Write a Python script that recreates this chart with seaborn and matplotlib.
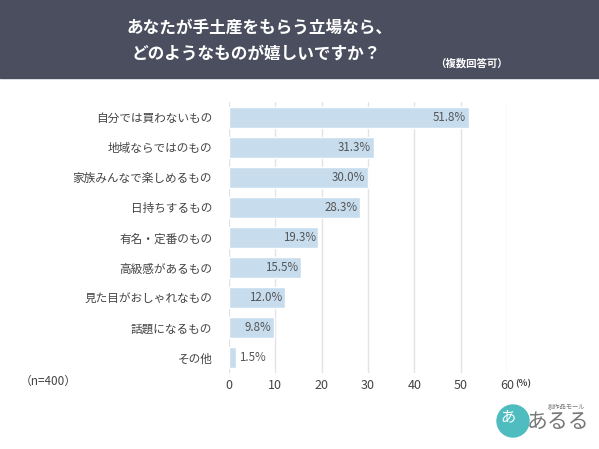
import pandas as pd
import matplotlib.pyplot as plt
import seaborn as sns
from matplotlib.patches import Rectangle, Ellipse

categories = ['自分では買わないもの', '地域ならではのもの', '家族みんなで楽しめるもの', '日持ちするもの',
              '有名・定番のもの', '高級感があるもの', '見た目がおしゃれなもの', '話題になるもの', 'その他']
values = [51.8, 31.3, 30.0, 28.3, 19.3, 15.5, 12.0, 9.8, 1.5]
ticks = [0, 10, 20, 30, 40, 50, 60]

df = pd.DataFrame({'item': categories, 'pct': values})

sns.set_theme(style='white')
plt.rcParams['font.family'] = ['Noto Sans CJK JP', 'DejaVu Sans']

W, H = 599, 449
fig = plt.figure(figsize=(W / 100, H / 100), dpi=100)
fig.patch.set_facecolor('white')

# header band
fig.patches.append(Rectangle((0, 1 - 78 / H), 1, 78 / H, transform=fig.transFigure,
                             color='#4b4e5f', zorder=0))
fig.text(259 / W, 1 - 27 / H, 'あなたが手土産をもらう立場なら、', ha='center', va='center',
         color='white', fontsize=12, fontweight='bold')
fig.text(256 / W, 1 - 53 / H, 'どのようなものが嬉しいですか？', ha='center', va='center',
         color='white', fontsize=12, fontweight='bold')
fig.text(471 / W, 1 - 63 / H, '（複数回答可）', ha='center', va='center',
         color='white', fontsize=7.5, fontweight='bold')

ax = fig.add_axes([229 / W, 1 - 373 / H, (507 - 229) / W, (373 - 102) / H])
sns.barplot(data=df, x='pct', y='item', orient='h', color='#c7ddee', width=0.7,
            saturation=1, ax=ax, zorder=2)
ax.set_xlim(0, 60)
ax.set_xticks(ticks)
ax.set_xticklabels([str(t) for t in ticks], fontsize=9, color='#444444')
ax.tick_params(axis='x', length=0, pad=4)
ax.tick_params(axis='y', length=0, pad=12, labelsize=8.4, labelcolor='#444444')
ax.set_xlabel('')
ax.set_ylabel('')
for s in ax.spines.values():
    s.set_visible(False)
ax.grid(axis='x', color='#e3e3e6', linewidth=1, zorder=0)
ax.set_axisbelow(True)

for i, v in enumerate(values):
    if v > 5:
        ax.text(v - 0.6, i, f'{v:.1f}%', ha='right', va='center', fontsize=8.3, color='#555555', zorder=3)
    else:
        ax.text(v + 0.6, i, f'{v:.1f}%', ha='left', va='center', fontsize=8.3, color='#555555', zorder=3)

fig.text(523 / W, 1 - 384 / H, '(％)', ha='center', va='center', fontsize=6.5,
         color='#444444', fontweight='bold')
fig.text(48 / W, 1 - 381 / H, '（n=400）', ha='center', va='center', fontsize=8.5, color='#444444')

# logo
fig.patches.append(Ellipse((513 / W, 1 - 421 / H), 32 / W, 32 / H, transform=fig.transFigure,
                           color='#4fbcc0', zorder=1))
fig.text(508 / W, 1 - 417 / H, 'あ', ha='center', va='center', fontsize=11, color='white')
fig.text(558 / W, 1 - 422 / H, 'あるる', ha='center', va='center', fontsize=15, color='#777777')
fig.text(567 / W, 1 - 406 / H, '創作品モール', ha='center', va='center', fontsize=4.5, color='#777777')

fig.savefig('out.png', dpi=100)
